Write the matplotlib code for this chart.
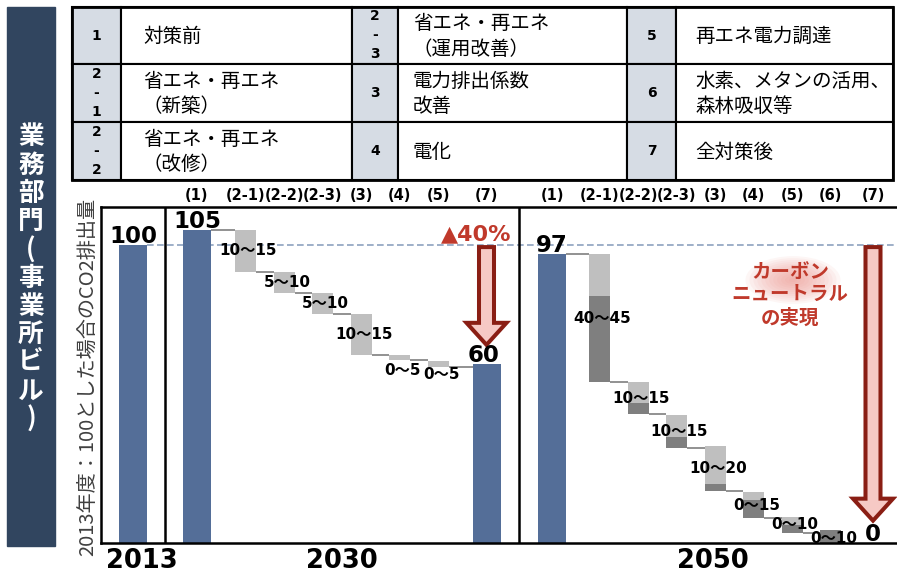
import numpy as np
import matplotlib.pyplot as plt
from matplotlib.patches import Rectangle, Polygon, Ellipse

plt.rcParams['font.family'] = ['DejaVu Sans', 'Noto Sans CJK JP']
JP = ['Noto Sans CJK JP', 'DejaVu Sans']

# ---- data ----
years = ["2013", "2030", "2050"]
value_2013 = 100

steps_2030 = ["(1)", "(2-1)", "(2-2)", "(2-3)", "(3)", "(4)", "(5)", "(7)"]
start_2030 = 105
end_2030 = 60
top_2030 = [105, 91, 84, 77, 63, 61]
bottom_2030 = [91, 84, 77, 63, 61.5, 59]
range_2030 = ["10～15", "5～10", "5～10", "10～15", "0～5", "0～5"]
cut_2030 = "▲40%"

steps_2050 = ["(1)", "(2-1)", "(2-2)", "(2-3)", "(3)", "(4)", "(5)", "(6)", "(7)"]
start_2050 = 97
end_2050 = 0
top_2050 = [97, 54, 43, 32.5, 17, 8.7, 4.4]
split_2050 = [83, 47, 35.6, 19.8, 14.4, 6, 4.4]
bottom_2050 = [54, 43.3, 32, 17.4, 8.4, 3.4, 0]
range_2050 = ["40～45", "10～15", "10～15", "10～20", "0～15", "0～10", "0～10"]
goal_2050 = "カーボン\nニュートラル\nの実現"

sector = "業務部門(事業所ビル)"
ylabel = "2013年度：100とした場合のCO2排出量"

table_ids = [["1", "2\n-\n1", "2\n-\n2"],
             ["2\n-\n3", "3", "4"],
             ["5", "6", "7"]]
table_items = [["対策前", "省エネ・再エネ\n（新築）", "省エネ・再エネ\n（改修）"],
               ["省エネ・再エネ\n（運用改善）", "電力排出係数\n改善", "電化"],
               ["再エネ電力調達", "水素、メタンの活用、\n森林吸収等", "全対策後"]]

# ---- colours ----
blue = '#546E98'
light = '#BFBFBF'
dark = '#7F7F7F'
red = '#C0392B'
arrow_edge = '#8A1E14'
arrow_fill = '#F6C9C5'

W, H = 897, 576
fig = plt.figure(figsize=(W / 100, H / 100), dpi=100)
bg = fig.add_axes([0, 0, 1, 1])
bg.set_xlim(0, W)
bg.set_ylim(H, 0)
bg.axis('off')

# chart area: x in pixels, y in index values
X0, X1, Y0, Y1 = 101, 897, 543, 207
PX = 2.98
ax = fig.add_axes([X0 / W, 1 - Y0 / H, (X1 - X0) / W, (Y0 - Y1) / H])
ax.set_xlim(X0, X1)
ax.set_ylim(0, (Y0 - Y1) / PX)
ax.set_xticks([])
ax.set_yticks([])
ax.spines['right'].set_visible(False)
for s in ['left', 'top', 'bottom']:
    ax.spines[s].set_linewidth(1.8)
    ax.spines[s].set_color('black')


def slots(first, n, step=38.5, gap_in=10, gap_out=10):
    i = np.arange(n)
    return first + step * i + gap_in * (i > 0) + gap_out * (i == n - 1)


BAR_W, BOX_W = 28, 21
x13 = 133
x30 = slots(197, len(steps_2030), gap_in=10, gap_out=10)
x50 = slots(552, len(steps_2050), gap_in=9, gap_out=4)

# dashed 2013 reference line
ax.hlines(value_2013, x13 + BAR_W / 2, X1, colors='#8EA2BF', linestyles=(0, (4, 2)), lw=1.2, zorder=0.5)

# blue bars
ax.bar(x13, value_2013, BAR_W, color=blue)
ax.bar([x30[0], x30[-1]], [start_2030, end_2030], BAR_W, color=blue)
ax.bar(x50[0], start_2050, BAR_W, color=blue)

# 2030 steps
t30, b30 = np.array(top_2030), np.array(bottom_2030)
ax.bar(x30[1:-1], t30 - b30, BOX_W, bottom=b30, color=light)

# 2050 steps (light = upper part of range, dark = lower part)
t50, m50, b50 = np.array(top_2050), np.array(split_2050), np.array(bottom_2050)
ax.bar(x50[1:-1], t50 - m50, BOX_W, bottom=m50, color=light)
ax.bar(x50[1:-1], m50 - b50, BOX_W, bottom=b50, color=dark)

# connectors
w30 = np.array([BAR_W] + [BOX_W] * len(top_2030) + [BAR_W])
lv30 = [start_2030] + bottom_2030
ax.hlines(lv30, x30[:-1] + w30[:-1] / 2, x30[1:] - w30[1:] / 2, colors=dark, lw=1.2)
w50 = np.array([BAR_W] + [BOX_W] * len(top_2050) + [BAR_W])
lv50 = [start_2050] + bottom_2050[:-1]
ax.hlines(lv50, x50[:-2] + w50[:-2] / 2, x50[1:-1] - w50[1:-1] / 2, colors=dark, lw=1.2)


def box_labels(xs, tops, bots, texts):
    for x, t, b, s in zip(xs, tops, bots, texts):
        y = (t + b) / 2 - max(0, 5 - (t - b)) * 1.2
        ax.text(x + 3, y, s, ha='center', va='center', fontsize=11, fontweight='bold',
                clip_on=True, zorder=4)


box_labels(x30[1:-1], top_2030, bottom_2030, range_2030)
box_labels(x50[1:-1], top_2050, bottom_2050, range_2050)

# value labels
for x, v in [(x13, value_2013), (x30[0], start_2030), (x30[-1] - 3, end_2030),
             (x50[0], start_2050), (x50[-1], end_2050)]:
    ax.text(x, v + 0.7, str(v), ha='center', va='baseline', fontsize=16.5, fontweight='bold', zorder=4)

# dividers between years
ax.axvline((x13 + x30[0]) / 2, color='black', lw=1.8)
ax.axvline((x30[-1] + x50[0]) / 2, color='black', lw=1.8)


def down_arrow(x, top, tip):
    sh, hh, hl = 7.5, 20, 22 / PX
    pts = [(x - sh, top), (x + sh, top), (x + sh, tip + hl), (x + hh, tip + hl),
           (x, tip), (x - hh, tip + hl), (x - sh, tip + hl)]
    ax.add_patch(Polygon(pts, closed=True, fc=arrow_fill, ec=arrow_edge, lw=2.9,
                         joinstyle='miter', zorder=3))


down_arrow(x30[-1], value_2013 - 0.7, end_2030 + 6.5)
down_arrow(x50[-1], value_2013 - 0.7, end_2050 + 7.5)

ax.text(x30[-1] - 10, value_2013 + 1.6, cut_2030, color=red, fontsize=16, fontweight='bold',
        ha='center', va='baseline', zorder=4)

# carbon neutral note with soft glow
gx, gy = 793, (Y0 - 280) / PX
for k in range(12):
    f = 1 - k / 12
    ax.add_patch(Ellipse((gx, gy), 95 * f, 16 * f, color='#EE8E86', alpha=0.08, lw=0, zorder=1))
ax.text(790, (Y0 - 295) / PX, goal_2050, ha='center', va='center', color=red, fontsize=14,
        fontweight='bold', family=JP, linespacing=1.25, zorder=4)

# step headers
for xs, labels in [(x30, steps_2030), (x50, steps_2050)]:
    for x, s in zip(xs, labels):
        bg.text(x, 195, s, ha='center', va='center', fontsize=10.5, fontweight='bold')

# year labels
for x, s in zip([142, (x30[0] + x30[-1]) / 2, (x50[0] + x50[-1]) / 2], years):
    bg.text(x, 561, s, ha='center', va='center', fontsize=18.5, fontweight='bold')

bg.text(88, 377, ylabel, rotation=90, ha='center', va='center', fontsize=14.5,
        family=JP, color='#404040')

# sector side bar
bg.add_patch(Rectangle((7, 7), 48, 539, color='#31455F'))
for i, ch in enumerate(sector):
    bg.text(31, 137 + i * 28.2, ch, ha='center', va='center', fontsize=18.5, color='white',
            fontweight='bold', family=JP)

# legend table
col_edges = [72, 121, 352, 398, 627, 676, 893]
row_edges = [7, 64, 122, 180]
text_pad = [22, 15, 19]
for c in range(3):
    nx0, nx1, tx1 = col_edges[2 * c], col_edges[2 * c + 1], col_edges[2 * c + 2]
    for r in range(3):
        y0, y1 = row_edges[r], row_edges[r + 1]
        bg.add_patch(Rectangle((nx0, y0), nx1 - nx0, y1 - y0, fc='#D6DCE4', ec='black', lw=1.5))
        bg.add_patch(Rectangle((nx1, y0), tx1 - nx1, y1 - y0, fc='white', ec='black', lw=1.5))
        parts = table_ids[c][r].split('\n')
        for j, p in enumerate(parts):
            yy = (y0 + y1) / 2 + (j - (len(parts) - 1) / 2) * 19
            bg.text((nx0 + nx1) / 2, yy, p, ha='center', va='center',
                    fontsize=10, fontweight='bold')
        bg.text(nx1 + text_pad[c], (y0 + y1) / 2 + 1, table_items[c][r], ha='left', va='center',
                fontsize=14, family=JP, linespacing=1.28)
bg.add_patch(Rectangle((col_edges[0], row_edges[0]), col_edges[-1] - col_edges[0],
                       row_edges[-1] - row_edges[0], fill=False, ec='black', lw=2))

fig.savefig('out.png', dpi=100)
